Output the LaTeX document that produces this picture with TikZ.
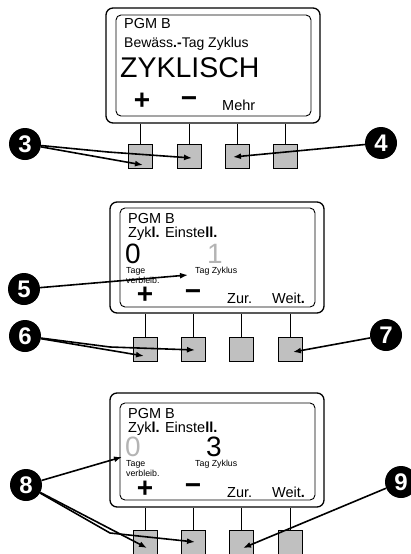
\documentclass[tikz,border=0pt]{standalone}
\usepackage{fontspec}
\setmainfont{Liberation Sans}
\usetikzlibrary{arrows.meta}
\definecolor{keygray}{RGB}{192,192,192}
\definecolor{dimgray}{RGB}{180,180,180}

\begin{document}
\begin{tikzpicture}[x=1pt,y=-1pt,
	housing/.style={draw=black, line width=1.3pt, rounded corners=7pt, minimum width=214pt, inner sep=0pt},
	lcd/.style={draw=black, line width=0.9pt, rounded corners=5pt, minimum width=195pt, inner sep=0pt},
	key/.style={draw=black, line width=0.8pt, fill=keygray, minimum size=24pt, inner sep=0pt},
	badge/.style={circle, fill=black, text=white, minimum size=32pt, inner sep=0pt, font=\fontsize{24}{24}\selectfont\bfseries},
	pointer/.style={line width=1.6pt, -{Latex[length=8pt,width=6pt]}},
	stem/.style={line width=0.7pt},
	txt/.style={anchor=base west, inner sep=0pt, font=\fontsize{14.5}{14.5}\selectfont},
	bigtxt/.style={anchor=base west, inner sep=0pt, font=\fontsize{28}{28}\selectfont},
	smalltxt/.style={anchor=base west, inner sep=0pt, font=\fontsize{8.8}{8.8}\selectfont},
	sym/.style={anchor=base, inner sep=0pt, font=\fontsize{28}{28}\selectfont\bfseries},
	]
	\useasboundingbox (0,0) rectangle (411,554);

	%Panel 1
	\node[housing, minimum height=115pt] (p1) at (213,65.5) {};
	\node[lcd, minimum height=101pt]     (s1) at (213.5,65.5) {};
	\node[txt]    (t11) at (124,28)  {PGM B};
	\node[txt, font=\fontsize{14}{14}\selectfont] (t12) at (124,47)  {Bewäss\textbf{.-}Tag Zyklus};
	\node[bigtxt, font=\fontsize{28.5}{28.5}\selectfont] (t13) at (120,77) {ZYKLISCH};
	\node[sym]    (plus1)  at (142,109) {+};
	\node[sym]    (minus1) at (189,107) {−};
	\node[txt]    (more1)  at (222,110) {Mehr};
	\node[key] (k11) at (140.5,156) {};
	\node[key] (k12) at (189,156)   {};
	\node[key] (k13) at (237,156)   {};
	\node[key] (k14) at (285.5,156) {};
	\foreach \k in {k11,k12,k13,k14}
		\draw[stem] (\k.north) -- (\k.north |- p1.south);

	%Panel 2
	\node[housing, minimum height=111pt] (p2) at (217,257.5) {};
	\node[lcd, minimum height=99pt]      (s2) at (217.5,257.5) {};
	\node[txt]    (t21) at (128,223) {PGM B};
	\node[txt]    (t22) at (128,237) {Zyk\textbf{l.} Einste\textbf{ll.}};
	\node[bigtxt] (days2)  at (125,263.5) {0};
	\node[bigtxt, text=dimgray] (cyc2) at (207,263.5) {1};
	\node[smalltxt] (t23) at (126,273.5) {Tage};
	\node[smalltxt] (t24) at (126,283) {verbleib.};
	\node[smalltxt] (t25) at (195,273.5) {Tag Zyklus};
	\node[sym]    (plus2)  at (145,303) {+};
	\node[sym]    (minus2) at (193,300) {−};
	\node[txt]    (back2)  at (227,303) {Zur.};
	\node[txt]    (next2)  at (272,303) {Weit\textbf{.}};
	\node[key] (k21) at (145,349.5) {};
	\node[key] (k22) at (193,349.5) {};
	\node[key] (k23) at (241,349.5) {};
	\node[key] (k24) at (290,349.5) {};
	\foreach \k in {k21,k22,k23,k24}
		\draw[stem] (\k.north) -- (\k.north |- p2.south);

	%Panel 3
	\node[housing, minimum height=114pt] (p3) at (217,450) {};
	\node[lcd, minimum height=97pt]      (s3) at (217.5,451.5) {};
	\node[txt]    (t31) at (128,418) {PGM B};
	\node[txt]    (t32) at (128,432) {Zyk\textbf{l.} Einste\textbf{ll.}};
	\node[bigtxt, text=dimgray] (days3) at (125,456.5) {0};
	\node[bigtxt] (cyc3) at (206,456.5) {3};
	\node[smalltxt] (t33) at (126,466.5) {Tage};
	\node[smalltxt] (t34) at (126,476) {verbleib.};
	\node[smalltxt] (t35) at (195,466.5) {Tag Zyklus};
	\node[sym]    (plus3)  at (145,497) {+};
	\node[sym]    (minus3) at (193,494) {−};
	\node[txt]    (back3)  at (227,497) {Zur.};
	\node[txt]    (next3)  at (272,497) {Weit\textbf{.}};
	\node[key] (k31) at (145,542) {};
	\node[key] (k32) at (193,542) {};
	\node[key] (k33) at (241,542) {};
	\node[key] (k34) at (290,542) {};
	\foreach \k in {k31,k32,k33,k34}
		\draw[stem] (\k.north) -- (\k.north |- p3.south);

	%Badges
	\node[badge] (c3) at (25,144)  {3};
	\node[badge] (c4) at (381,143) {4};
	\node[badge] (c5) at (24,289)  {5};
	\node[badge] (c6) at (25,336)  {6};
	\node[badge] (c7) at (386,335) {7};
	\node[badge] (c8) at (26,485)  {8};
	\node[badge] (c9) at (401,482) {9};

	%Pointer ends
	\coordinate (e3a) at (143,165);
	\coordinate (j3)  at (108,152);
	\coordinate (e3b) at (192,158);
	\coordinate (e4)  at (233,157);
	\coordinate (e5)  at (188,275);
	\coordinate (e6a) at (144,356);
	\coordinate (j6)  at (110,347);
	\coordinate (e6b) at (195,350);
	\coordinate (e7)  at (293,352);
	\coordinate (e8)  at (122,457);
	\coordinate (e8a) at (147,548);
	\coordinate (j8)  at (110,533);
	\coordinate (e8b) at (195,542);
	\coordinate (e9)  at (243,548);

	\draw[pointer] (c3) -- (e3a);
	\draw[pointer] (c3) -- (j3) -- (e3b);
	\draw[pointer] (c4) -- (e4);
	\draw[pointer] (c5) -- (e5);
	\draw[pointer] (c6) -- (e6a);
	\draw[pointer] (c6) -- (j6) -- (e6b);
	\draw[pointer] (c7) -- (e7);
	\draw[pointer] (c8) -- (e8);
	\draw[pointer] (c8) -- (e8a);
	\draw[pointer] (c8) -- (j8) -- (e8b);
	\draw[pointer] (c9) -- (e9);
\end{tikzpicture}
\end{document}
